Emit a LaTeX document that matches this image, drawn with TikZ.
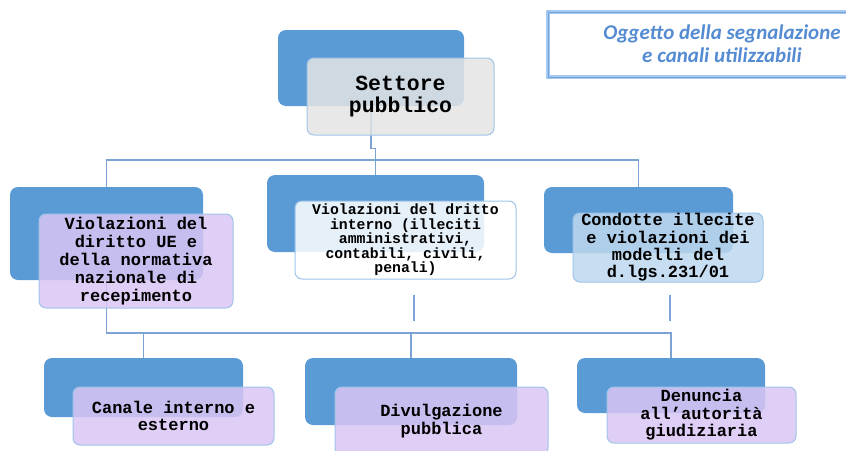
\documentclass[tikz,border=0pt]{standalone}
\usepackage{fontspec}
\newfontfamily\boxfont{Liberation Mono}
\newfontfamily\titlefont{Carlito}
\definecolor{backblue}{RGB}{91,155,213}
\definecolor{edgeblue}{RGB}{160,196,232}
\definecolor{wireblue}{RGB}{125,163,212}
\definecolor{grayfill}{RGB}{228,228,228}
\definecolor{lilacfill}{RGB}{217,197,243}
\definecolor{skyfill}{RGB}{189,215,238}
\definecolor{titleblue}{RGB}{84,139,210}
\definecolor{glowblue}{RGB}{165,202,242}
\begin{document}
\begin{tikzpicture}[x=1pt, y=-1pt,
  backbox/.style={fill=backblue, rounded corners=8pt, inner sep=0pt},
  frontbox/.style={draw=edgeblue, line width=1pt, rounded corners=7pt, inner sep=0pt,
    fill opacity=0.85, text opacity=1, align=center, font=\boxfont\bfseries},
  wire/.style={draw=wireblue, line width=1.1pt}]

\useasboundingbox ( 0, 0 ) rectangle ( 846, 450 );

% Title
\draw [glowblue, line width=4pt] ( 548, 12 ) rectangle ( 900, 77 );
\draw [titleblue!80!white, line width=1pt] ( 548, 12 ) rectangle ( 900, 77 );
\node (title) at ( 722, 44 ) [align=center, text=titleblue,
  font=\titlefont\bfseries\itshape\fontsize{21}{23}\selectfont]
  {Oggetto della segnalazione\\e canali utilizzabili};

% Back boxes
\node [backbox, minimum width=186, minimum height=76] (setback) at ( 371, 68 ) {};
\node [backbox, minimum width=193, minimum height=93] (ueback) at ( 106.5, 233.5 ) {};
\node [backbox, minimum width=217, minimum height=77] (intback) at ( 375.5, 213.5 ) {};
\node [backbox, minimum width=189, minimum height=66] (cdback) at ( 638.5, 220 ) {};
\node [backbox, minimum width=199, minimum height=59] (caback) at ( 143.5, 387.5 ) {};
\node [backbox, minimum width=212, minimum height=67] (dvback) at ( 411, 391.5 ) {};
\node [backbox, minimum width=188, minimum height=55] (dnback) at ( 671, 385.5 ) {};

% Connectors
\draw [wire] (setback.south) -- ++( 0, 42 ) -| (intback.north);
\draw [wire] (ueback.north) |- (cdback.north |- 0,160) -- (cdback.north);
\draw [wire] (ueback.south) |- (dnback.north |- 0,333) -- (dnback.north);
\draw [wire] (caback.north) -- (caback.north |- 0,333);
\draw [wire] (dvback.north) -- (dvback.north |- 0,333);
\coordinate (intstub) at ( 414, 295 );
\coordinate (cdstub) at ( 670, 295 );
\draw [wire] (intstub) -- ++( 0, 26 );
\draw [wire] (cdstub) -- ++( 0, 26 );

% Front boxes
\node [frontbox, fill=grayfill, minimum width=187, minimum height=77,
  font=\boxfont\bfseries\fontsize{21.5}{22}\selectfont] (setfront) at ( 400.5, 96.5 )
  {Settore\\pubblico};
\node [frontbox, fill=lilacfill, minimum width=194, minimum height=94,
  font=\boxfont\bfseries\fontsize{17}{17.8}\selectfont] (uefront) at ( 136, 261 )
  {Violazioni del\\diritto UE e\\della normativa\\nazionale di\\recepimento};
\node [frontbox, fill=white, minimum width=221, minimum height=78,
  font=\boxfont\bfseries\fontsize{14.8}{14.5}\selectfont] (intfront) at ( 405.5, 240 )
  {Violazioni del dritto\\interno (illeciti\\amministrativi,\\contabili, civili,\\penali)};
\node [frontbox, fill=skyfill, minimum width=190, minimum height=69,
  font=\boxfont\bfseries\fontsize{17}{17.3}\selectfont] (cdfront) at ( 668, 247.5 )
  {Condotte illecite\\e violazioni dei\\modelli del\\d.lgs.231/01};
\node [frontbox, fill=lilacfill, minimum width=201, minimum height=58,
  font=\boxfont\bfseries\fontsize{17}{16.5}\selectfont] (cafront) at ( 173.5, 416 )
  {Canale interno e\\esterno};
\node [frontbox, fill=lilacfill, minimum width=213, minimum height=68,
  font=\boxfont\bfseries\fontsize{17}{18.5}\selectfont] (dvfront) at ( 441.5, 421 )
  {Divulgazione\\pubblica};
\node [frontbox, fill=lilacfill, minimum width=189, minimum height=56,
  font=\boxfont\bfseries\fontsize{17}{17.5}\selectfont] (dnfront) at ( 701.5, 415 )
  {Denuncia\\all’autorità\\giudiziaria};

\end{tikzpicture}
\end{document}
